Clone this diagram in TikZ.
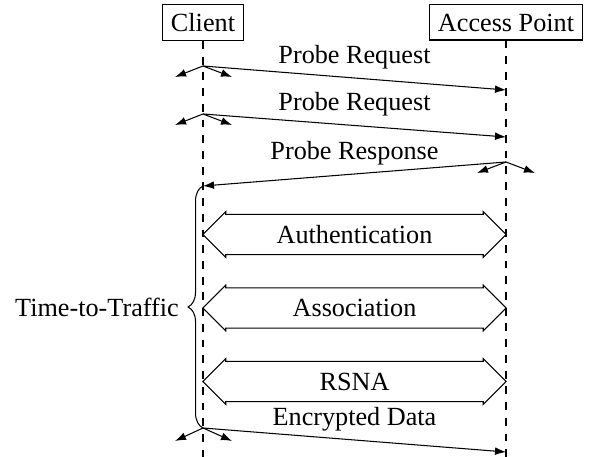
\documentclass[tikz,border=0pt]{standalone}
\usepackage{fontspec}
\setmainfont{Liberation Serif}
\usepackage{tikz}
\usetikzlibrary{shapes,arrows,arrows.meta,decorations.pathreplacing,calc,positioning}
\tikzstyle{Box} = [rectangle, draw=black]
\tikzstyle{Life} = [dashed]
\tikzstyle{arrow} = [-{Latex[length=4.2pt,width=3pt]}]
\tikzstyle{bcast} = [-{Latex[length=4.2pt,width=3pt]}]
\tikzstyle{Phase} = [double arrow, draw=black, minimum height=115.7pt, minimum width=17.4pt, double arrow head extend=0.9pt, inner xsep=0pt]
\tikzstyle{Brace} = [decorate, decoration={brace, amplitude=5.7pt}]

\begin{document}
\begin{tikzpicture}[x=0.3817pt, y=-0.3817pt, every text node part/.style={align=center}]
\useasboundingbox (0,0) rectangle (590,457);

\node (Client)[Box] at (203,22.5) {Client};
\node (AP)[Box] at (506,22.5) {Access Point};
\coordinate (bottom) at (0,457);

\draw[Life](Client.south)--(Client.south |- bottom);
\draw[Life](AP.south)--(AP.south |- bottom);

\coordinate (Req1 c) at (203,66);
\coordinate (Req1 a) at (506,90);
\coordinate (Req2 c) at (203,114);
\coordinate (Req2 a) at (506,137);
\coordinate (Resp a) at (506,162);
\coordinate (Resp c) at (203,186);
\coordinate (Data c) at (203,428);
\coordinate (Data a) at (506,452);

\draw[arrow](Req1 c)--(Req1 a)node[midway,above]{Probe Request};
\draw[bcast](Req1 c)--++(-28,11);
\draw[bcast](Req1 c)--++(29,11);

\draw[arrow](Req2 c)--(Req2 a)node[midway,above]{Probe Request};
\draw[bcast](Req2 c)--++(-28,11);
\draw[bcast](Req2 c)--++(29,11);

\draw[arrow](Resp a)--(Resp c)node[midway,above]{Probe Response};
\draw[bcast](Resp a)--++(-29,11);
\draw[bcast](Resp a)--++(29,11);

\node (Auth)[Phase] at (354.5,234.5) {Authentication};
\node (Assoc)[Phase] at (354.5,308) {Association};
\node (RSNA)[Phase] at (354.5,381.5) {RSNA};

\draw[arrow](Data c)--(Data a)node[midway,above]{Encrypted Data};
\draw[bcast](Data c)--++(-28,13);
\draw[bcast](Data c)--++(29,13);

\draw[Brace](Data c)--(Resp c);
\node (TtT)[anchor=east] at (188,307) {Time-to-Traffic};

\end{tikzpicture}
\end{document}
